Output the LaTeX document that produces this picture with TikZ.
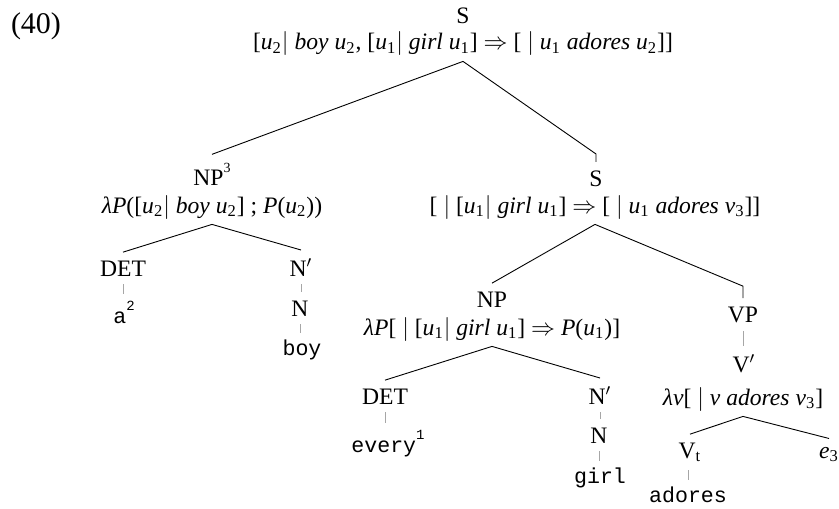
\documentclass[tikz,border=0pt]{standalone}
\usepackage{fontspec}
\setmainfont{Liberation Serif}
\setmonofont{Liberation Mono}
\usetikzlibrary{calc}

% italic variable with an upright index
\newcommand{\ivar}[2]{\textit{#1}\textsubscript{#2}}
% raised index on a category or a word
\newcommand{\rix}[1]{\raisebox{6.5pt}{\fontsize{7}{8}\selectfont #1}}
\newcommand{\imp}{$\Rightarrow$}

\begin{document}
\begin{tikzpicture}[x=0.5pt, y=-0.5pt,
    every node/.style={font=\fontsize{11.8}{14}\selectfont},
    cat/.style={inner sep=4pt, anchor=base},
    sem/.style={inner sep=3pt, text depth=2.5pt, anchor=base},
    lex/.style={inner sep=3pt, anchor=base, font=\fontsize{10.8}{13}\selectfont\ttfamily},
    branch/.style={black, line width=0.45pt},
    stub/.style={gray!70, line width=0.45pt}]

    \useasboundingbox (0,0) rectangle (839,508);

    % example number
    \node[anchor=base, font=\fontsize{15}{17}\selectfont] (num) at (36,34) {(40)};

    % root
    \node[cat] (s1) at (463,24) {S};
    \node[sem] (s1sem) at (463,50) {[\ivar{u}{2}$|$ \textit{boy} \ivar{u}{2}, [\ivar{u}{1}$|$ \textit{girl} \ivar{u}{1}] \imp{} [ $|$ \ivar{u}{1} \textit{adores} \ivar{u}{2}]]};

    % subject NP
    \node[cat] (np1) at (212,185) {NP\rix{3}};
    \node[sem] (np1sem) at (212,213) {\textit{λP}([\ivar{u}{2}$|$ \textit{boy} \ivar{u}{2}] ; \textit{P}(\ivar{u}{2}))};
    \node[cat] (det1) at (123,276) {DET};
    \node[lex] (a) at (124,323) {a\rix{2}};
    \node[cat] (nbar1) at (301,276) {N$'$};
    \node[cat] (n1) at (300,316) {N};
    \node[lex] (boy) at (302,355) {boy};

    % lower S
    \node[cat] (s2) at (596,186) {S};
    \node[sem] (s2sem) at (595,213) {[ $|$ [\ivar{u}{1}$|$ \textit{girl} \ivar{u}{1}] \imp{} [ $|$ \ivar{u}{1} \textit{adores} \ivar{v}{3}]]};

    % object NP
    \node[cat] (np2) at (492,307) {NP};
    \node[sem] (np2sem) at (492,335) {\textit{λP}[ $|$ [\ivar{u}{1}$|$ \textit{girl} \ivar{u}{1}] \imp{} \textit{P}(\ivar{u}{1})]};
    \node[cat] (det2) at (385,404) {DET};
    \node[lex] (every) at (388,452) {every\rix{1}};
    \node[cat] (nbar2) at (600,404) {N$'$};
    \node[cat] (n2) at (599,443) {N};
    \node[lex] (girl) at (600,483) {girl};

    % VP
    \node[cat] (vp) at (743,322) {VP};
    \node[cat] (vbar) at (744,372) {V$'$};
    \node[sem] (vbarsem) at (743,405) {\textit{λv}[ $|$ \textit{v} \textit{adores} \ivar{v}{3}]};
    \node[cat] (vt) at (690,458) {V\textsubscript{t}};
    \node[lex] (adores) at (688,502) {adores};
    \node[cat] (e) at (829,458) {\ivar{e}{3}};

    % branches
    \draw[branch] (s1sem.south) -- (np1.north);
    \draw[branch] (s1sem.south) -- ([yshift=4pt]s2.north) -- (s2.north);
    \draw[branch] (np1sem.south) -- (det1.north);
    \draw[branch] (np1sem.south) -- (nbar1.north);
    \draw[branch] (s2sem.south) -- (np2.north);
    \draw[branch] (s2sem.south) -- ([yshift=6pt]vp.north) -- (vp.north);
    \draw[branch] (np2sem.south) -- (det2.north);
    \draw[branch] (np2sem.south) -- (nbar2.north);
    \draw[branch] (vbarsem.south) -- (vt.north);
    \draw[branch] (vbarsem.south) -- (e.north);

    % unary stubs, kept vertical
    \draw[stub] (det1.south) -- (det1.south |- a.north);
    \draw[stub] (nbar1.south) -- (nbar1.south |- n1.north);
    \draw[stub] (n1.south) -- (n1.south |- boy.north);
    \draw[stub] (det2.south) -- (det2.south |- every.north);
    \draw[stub] (nbar2.south) -- (nbar2.south |- n2.north);
    \draw[stub] (n2.south) -- (n2.south |- girl.north);
    \draw[stub] (vp.south) -- (vp.south |- vbar.north);
    \draw[stub] ([xshift=-1pt]vt.south) -- ([xshift=-1pt]vt.south |- adores.north);

\end{tikzpicture}
\end{document}
